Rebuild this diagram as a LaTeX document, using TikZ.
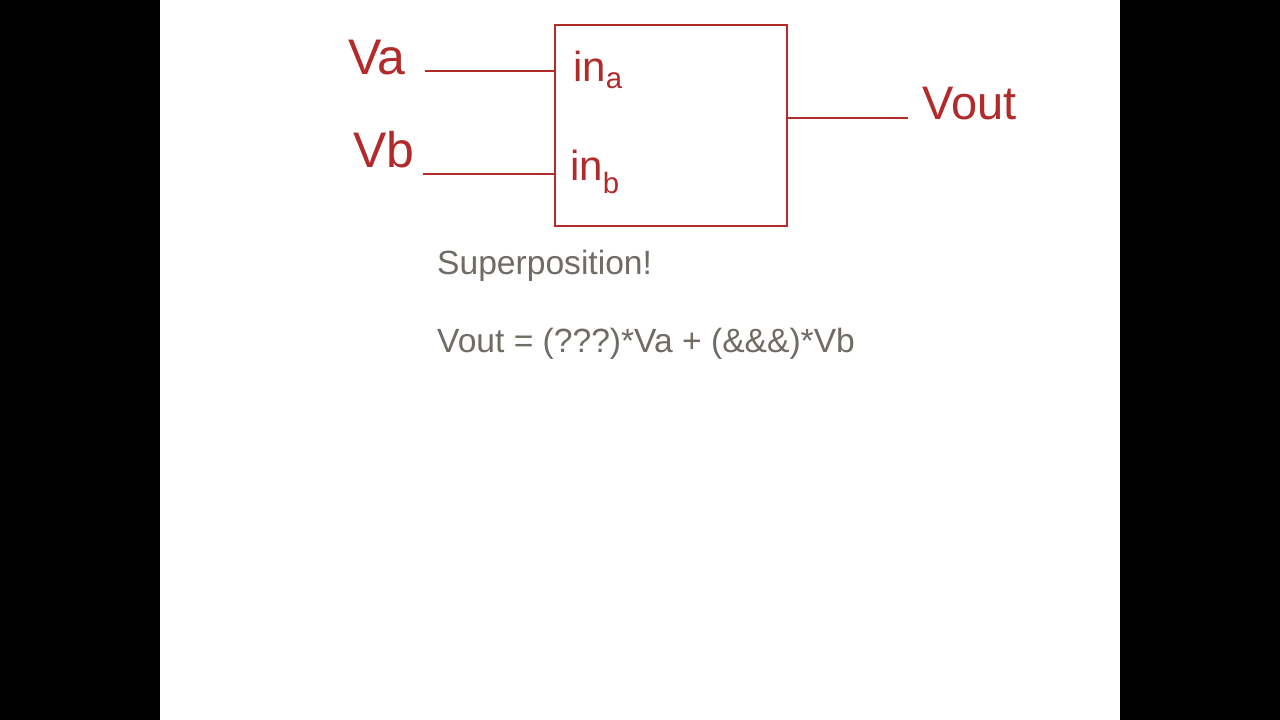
\documentclass[tikz,border=0pt]{standalone}
\usepackage{fontspec}
\setmainfont{Liberation Sans}
\definecolor{inkRed}{RGB}{178,42,42}
\definecolor{textGray}{RGB}{112,107,100}
\tikzstyle{screen} = [x=1pt, y=-1pt]
\tikzstyle{inkLine} = [color=inkRed, line width=1.6pt]
\tikzstyle{inkLabel} = [color=inkRed, inner sep=0pt]
\tikzstyle{slideText} = [color=textGray, font=\fontsize{33.6}{40}\selectfont, anchor=west, inner sep=0pt]
\newcommand{\inkSize}[1]{\fontsize{#1}{#1}\selectfont}

\begin{document}
\begin{tikzpicture}[screen]
  \fill [black] (0,0) rectangle (1280,720);
  \fill [white] (160,0) rectangle (1120,720);

  \node [inkLine, draw, minimum width=232pt, minimum height=201pt, inner sep=0pt] (block) at (671,125.5) {};
  \node [inkLabel, font=\inkSize{42}] (inA) at (598,70) {in\textsubscript{a}};
  \node [inkLabel, font=\inkSize{42}] (inB) at (595,172) {in\textsubscript{b}};

  \node [inkLabel, font=\inkSize{50}] (va) at (377,58) {Va};
  \node [inkLabel, font=\inkSize{50}] (vb) at (384,150) {Vb};
  \node [inkLabel, font=\inkSize{47}] (vout) at (970,104) {Vout};

  \coordinate (vaTip) at (425,71);
  \coordinate (vbTip) at (423,174);
  \coordinate (voutTip) at (908,118);
  \draw [inkLine] (vaTip) -- (block.west |- vaTip);
  \draw [inkLine] (vbTip) -- (block.west |- vbTip);
  \draw [inkLine] (block.east |- voutTip) -- (voutTip);

  \node [slideText] (title) at (437,265.5) {Superposition!};
  \node [slideText] (formula) at (437,343.5) {Vout = (???)*Va + (\&\&\&)*Vb};
\end{tikzpicture}
\end{document}
